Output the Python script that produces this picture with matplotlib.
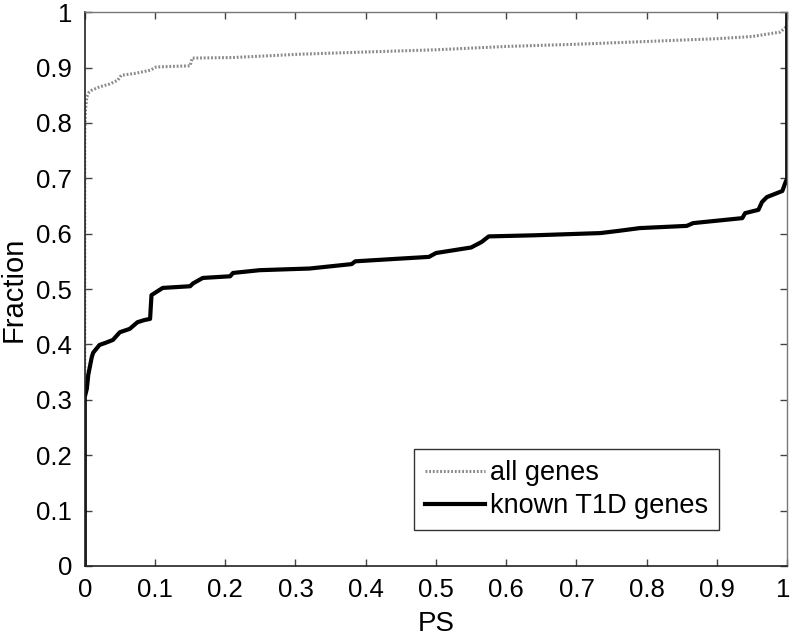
import matplotlib
matplotlib.use('Agg')
import matplotlib.pyplot as plt
import matplotlib.transforms as mtransforms

plt.rcParams['font.family'] = ['Liberation Sans', 'DejaVu Sans']

# known T1D genes (cumulative fraction vs PS)
t1d_ps = [0.0, 0.0, 0.003, 0.005, 0.010, 0.012, 0.021, 0.030, 0.040, 0.050,
          0.064, 0.075, 0.085, 0.093, 0.095, 0.111, 0.150, 0.154, 0.168,
          0.207, 0.211, 0.249, 0.320, 0.380, 0.385, 0.450, 0.490, 0.500,
          0.550, 0.565, 0.575, 0.640, 0.734, 0.760, 0.790, 0.857, 0.866,
          0.936, 0.940, 0.959, 0.964, 0.971, 0.993, 0.997, 1.0, 1.0]
t1d_frac = [0.0, 0.305, 0.32, 0.345, 0.377, 0.385, 0.399, 0.403, 0.408, 0.422,
            0.428, 0.440, 0.444, 0.446, 0.489, 0.502, 0.505, 0.510, 0.520,
            0.523, 0.529, 0.534, 0.537, 0.545, 0.550, 0.555, 0.558, 0.565,
            0.575, 0.585, 0.595, 0.597, 0.601, 0.605, 0.610, 0.614, 0.619,
            0.628, 0.637, 0.643, 0.657, 0.666, 0.677, 0.691, 0.70, 1.0]

# all genes
all_ps = [0.0, 0.0, 0.001, 0.003, 0.006, 0.010, 0.021, 0.035, 0.047, 0.052,
          0.070, 0.093, 0.102, 0.150, 0.153, 0.211, 0.306, 0.400, 0.500,
          0.600, 0.700, 0.800, 0.900, 0.950, 0.990, 1.0]
all_frac = [0.0, 0.78, 0.823, 0.847, 0.855, 0.859, 0.865, 0.870, 0.877, 0.886,
            0.889, 0.895, 0.901, 0.903, 0.917, 0.918, 0.924, 0.928, 0.932,
            0.938, 0.942, 0.947, 0.952, 0.956, 0.964, 0.975]

fig = plt.figure(figsize=(7.92, 6.38), dpi=100)
ax = fig.add_axes([0.107, 0.113, 0.887, 0.868])

ax.plot(all_ps, all_frac, color='#8a8a8a', lw=2.2, ls=(0, (0.6, 0.6)),
        label='all genes')
ax.plot(t1d_ps, t1d_frac, color='black', lw=3, label='known T1D genes')

ax.set_xlim(0, 1)
ax.set_ylim(0, 1)
ticks = [0, 0.1, 0.2, 0.3, 0.4, 0.5, 0.6, 0.7, 0.8, 0.9, 1]
labels = ['0', '0.1', '0.2', '0.3', '0.4', '0.5', '0.6', '0.7', '0.8', '0.9', '1']
ax.set_xticks(ticks)
ax.set_xticklabels(labels)
ax.set_yticks(ticks)
ax.set_yticklabels(labels)
ax.tick_params(direction='in', length=5, width=1, labelsize=18.5, pad=9,
               top=True, right=True, colors='#444444', labelcolor='black')

# keep the last x label inside the canvas
last = ax.get_xticklabels()[-1]
last.set_transform(last.get_transform() +
                   mtransforms.ScaledTranslation(-3 / 72, 0, fig.dpi_scale_trans))

for side in ['left', 'bottom']:
    ax.spines[side].set_color('#222222')
    ax.spines[side].set_linewidth(1.2)
for side in ['top', 'right']:
    ax.spines[side].set_color('#777777')
    ax.spines[side].set_linewidth(1.0)

ax.set_xlabel('PS', fontsize=20, labelpad=6)
ax.set_ylabel('Fraction', fontsize=21, labelpad=6)

leg = ax.legend(loc='lower right', bbox_to_anchor=(0.903, 0.065), fontsize=19.5,
                fancybox=False, framealpha=1, edgecolor='#333333',
                handlelength=2.2, handletextpad=0.2, borderpad=0.4,
                labelspacing=0.25, borderaxespad=0)
leg.get_frame().set_linewidth(1.0)

fig.savefig('out.png', dpi=100)
